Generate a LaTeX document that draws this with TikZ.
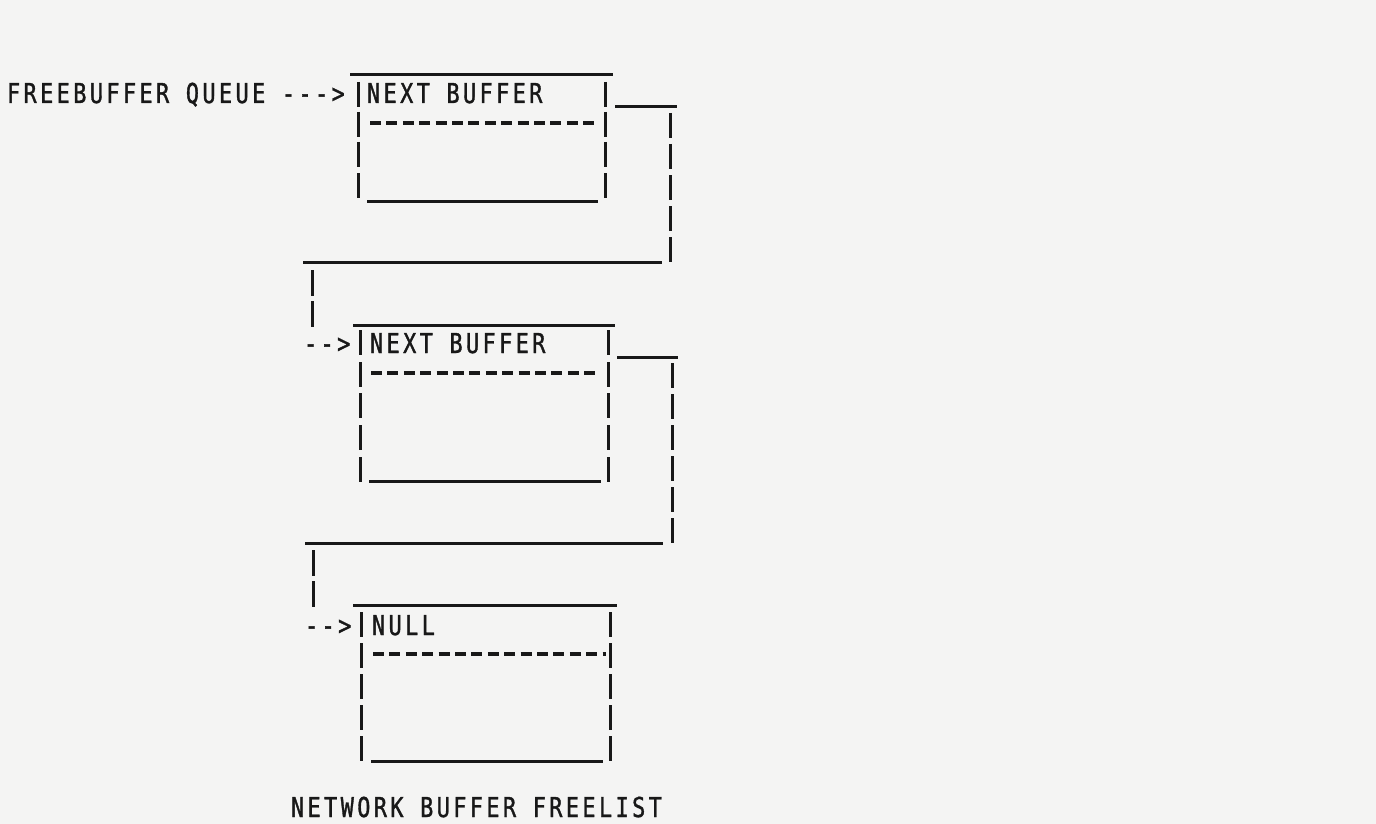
\documentclass[tikz,border=0pt]{standalone}
\usepackage{fontspec}
\newfontfamily\tw[FakeStretch=0.8,LetterSpace=12.3,FakeBold=1.2]{DejaVu Sans Mono}
\definecolor{ink}{RGB}{24,24,24}
\definecolor{paper}{RGB}{244,244,243}
\begin{document}
\begin{tikzpicture}[x=1pt,y=-1pt,
  rule/.style={draw=ink,line width=3pt},
  dashrule/.style={draw=ink,line width=3.2pt,dash pattern=on 11pt off 5.4pt},
  lbl/.style={inner sep=0pt,outer sep=0pt,text=ink,font=\tw\fontsize{27.4}{30}\selectfont},
]
\fill[paper] (0,0) rectangle (1376,824);
\useasboundingbox (0,0) rectangle (1376,824);

% ---------- labels ----------
\node[lbl,anchor=base west] (fq) at (7,103) {FREEBUFFER QUEUE --->};
\node[lbl,anchor=base west] (t1) at (367,103) {NEXT BUFFER};
\node[lbl,anchor=base west] (a2) at (304,353) {-->};
\node[lbl,anchor=base west] (t2) at (370,353) {NEXT BUFFER};
\node[lbl,anchor=base west] (a3) at (305,635) {-->};
\node[lbl,anchor=base west] (t3) at (372,635) {NULL};
\node[lbl,anchor=base west] (cap) at (291,817) {NETWORK BUFFER FREELIST};

% ---------- buffer 1 ----------
\draw[rule] (350,75) -- (613,75);
\foreach \s in {82,112,142,173}{
  \draw[rule] (358,\s) -- (358,\s+25);
  \draw[rule] (605,\s) -- (605,\s+25);
}
\draw[dashrule] (370,123) -- (598,123);
\draw[rule] (367,201) -- (598,201);
% link 1 -> 2
\draw[rule] (615,107) -- (677,107);
\foreach \s in {113,144,175,206,237}{\draw[rule] (670,\s) -- (670,\s+25);}
\draw[rule] (303,262) -- (662,262);
\foreach \s in {270,301}{\draw[rule] (312,\s) -- (312,\s+26);}

% ---------- buffer 2 ----------
\draw[rule] (353,325) -- (615,325);
\foreach \s in {330,362,393,425,457}{
  \draw[rule] (360,\s) -- (360,\s+25);
  \draw[rule] (608,\s) -- (608,\s+25);
}
\draw[dashrule] (371,373) -- (599,373);
\draw[rule] (369,481) -- (601,481);
% link 2 -> 3
\draw[rule] (617,357) -- (678,357);
\foreach \s in {363,394,425,456,487,518}{\draw[rule] (672,\s) -- (672,\s+25);}
\draw[rule] (305,543) -- (663,543);
\foreach \s in {550,581}{\draw[rule] (313,\s) -- (313,\s+26);}

% ---------- buffer 3 ----------
\draw[rule] (353,605) -- (617,605);
\foreach \s in {612,643,674,705,736}{
  \draw[rule] (361,\s) -- (361,\s+25);
  \draw[rule] (610,\s) -- (610,\s+25);
}
\draw[dashrule] (373,654) -- (606,654);
\draw[rule] (371,761) -- (603,761);
\end{tikzpicture}
\end{document}
